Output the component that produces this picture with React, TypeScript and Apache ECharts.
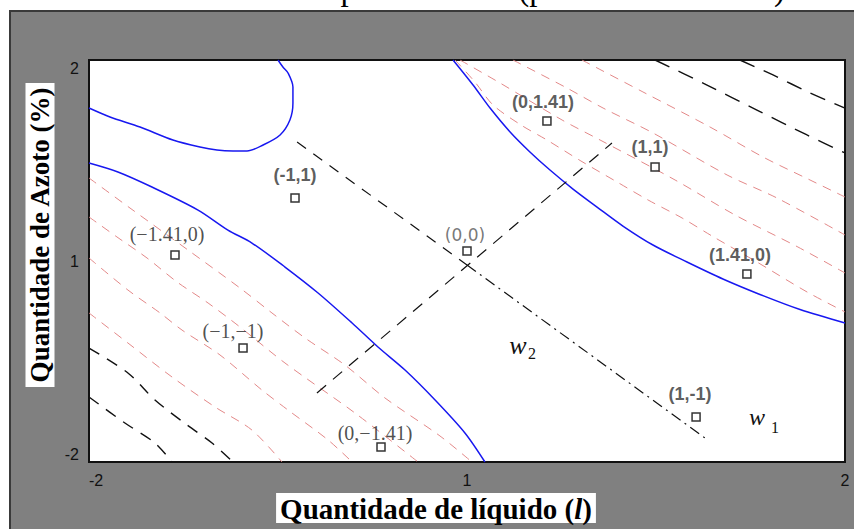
import { useEffect, useRef } from 'react';
import * as echarts from 'echarts';

// Axis ticks and the text shown at them
const tickValues = [-2, 0, 2];
const xTickLabels = ['-2', '1', '2'];
const yTickLabels = ['-2', '1', '2'];

const titleText = 'Planeamento composto central (por nível de Azoto)';
const xTitle = ['Quantidade de líquido (', 'l', ')'];
const yTitle = 'Quantidade de Azoto (%)';

// Iso-response contours [x, y]
const blueLoop = [
  [-2.0, 1.522], [-1.889, 1.433], [-1.73, 1.333], [-1.556, 1.204], [-1.413, 1.134], [-1.323, 1.104],
  [-1.238, 1.095], [-1.164, 1.095], [-1.079, 1.154], [-0.989, 1.254], [-0.937, 1.403], [-0.921, 1.572],
  [-0.921, 1.731], [-0.947, 1.871], [-0.974, 1.93], [-1.0, 2.0],
];
const blueLow = [
  [-2.0, 0.975], [-1.847, 0.886], [-1.667, 0.736], [-1.423, 0.507], [-1.265, 0.308], [-1.138, 0.179],
  [-0.963, -0.06], [-0.788, -0.318], [-0.608, -0.617], [-0.471, -0.856], [-0.328, -1.085],
  [-0.169, -1.383], [-0.011, -1.711], [0.095, -2.0],
];
const blueHigh = [
  [-0.074, 2.0], [0.032, 1.751], [0.122, 1.522], [0.228, 1.284], [0.333, 1.085], [0.439, 0.905],
  [0.561, 0.716], [0.688, 0.537], [0.825, 0.348], [0.984, 0.159], [1.164, -0.01], [1.354, -0.179],
  [1.55, -0.333], [1.762, -0.483], [2.0, -0.617],
];
const pinkHigh = [
  [[-0.063, 2.0], [0.042, 1.781], [0.138, 1.552], [0.286, 1.353], [0.423, 1.204], [0.603, 0.995], [0.794, 0.786],
   [0.958, 0.607], [1.138, 0.428], [1.296, 0.249], [1.534, -0.01], [1.799, -0.308], [2.0, -0.507]],
  [[-0.037, 2.0], [0.175, 1.771], [0.503, 1.403], [0.704, 1.204], [1.101, 0.806], [1.418, 0.458], [1.751, 0.139], [2.0, -0.119]],
  [[0.243, 2.0], [0.529, 1.721], [0.72, 1.522], [0.984, 1.274], [1.376, 0.856], [1.64, 0.627], [2.0, 0.259]],
  [[0.608, 2.0], [0.931, 1.682], [1.286, 1.333], [1.566, 1.035], [1.815, 0.806], [2.0, 0.637]],
];
const blackHigh = [
  [[0.995, 2.0], [1.27, 1.751], [1.534, 1.502], [1.799, 1.254], [2.0, 1.075]],
  [[1.444, 2.0], [1.619, 1.851], [1.815, 1.672], [2.0, 1.522]],
];
const pinkLow = [
  [[-2.0, 0.826], [-1.783, 0.527], [-1.476, 0.109], [-1.201, -0.269], [-1.032, -0.517], [-0.857, -0.766],
   [-0.646, -1.035], [-0.434, -1.363], [-0.143, -1.741], [0.026, -2.0]],
  [[-2.0, 0.438], [-1.852, 0.239], [-1.693, 0.03], [-1.534, -0.209], [-1.37, -0.418], [-1.201, -0.657],
   [-0.963, -1.015], [-0.593, -1.512], [-0.259, -2.0]],
  [[-2.0, 0.03], [-1.794, -0.289], [-1.624, -0.517], [-1.508, -0.687], [-1.307, -0.935], [-1.085, -1.284],
   [-0.947, -1.483], [-0.735, -1.781], [-0.608, -2.0]],
  [[-2.0, -0.517], [-1.794, -0.816], [-1.561, -1.154], [-1.333, -1.453], [-1.138, -1.682], [-0.979, -2.0]],
];
const blackLow = [
  [[-2.0, -0.866], [-1.794, -1.114], [-1.651, -1.383], [-1.481, -1.632], [-1.349, -1.811], [-1.238, -2.0]],
  [[-2.0, -1.353], [-1.81, -1.612], [-1.651, -1.811], [-1.561, -2.0]],
];

// Rotated design axes w1 and w2
const w1Upper = [[-0.899, 1.184], [0.0, -0.04]];
const w1Lower = [[0.0, -0.04], [1.259, -1.761]];
const w2Axis = [[-0.794, -1.313], [0.767, 1.174]];

// Design points
const pointLabels = ['(0,0)', '(1,1)', '(-1,1)', '(1,-1)', '(−1,−1)', '(0,1.41)', '(1.41,0)', '(−1.41,0)', '(0,−1.41)'];
const pointX = [0.0, 0.995, -0.91, 1.212, -1.185, 0.423, 1.481, -1.545, -0.455];
const pointY = [0.1, 0.935, 0.627, -1.552, -0.866, 1.393, -0.129, 0.06, -1.851];

const labelOffsets: Record<string, number[]> = {
  '(0,0)': [-2, -16], '(1,1)': [-5, -20], '(-1,1)': [0, -23], '(1,-1)': [-6, -23], '(−1,−1)': [-10, -17],
  '(0,1.41)': [-4, -19], '(1.41,0)': [-7, -19], '(−1.41,0)': [-8, -21], '(0,−1.41)': [-6, -14],
};

function labelFont(text: string) {
  if (text.includes('−')) return { fontFamily: '"Liberation Serif", serif', fontSize: 20, fontWeight: 'normal', color: '#222' };
  if (text === '(0,0)') return { fontFamily: '"DejaVu Sans", sans-serif', fontSize: 17, fontWeight: 'normal', color: '#555' };
  return { fontFamily: '"Liberation Sans", sans-serif', fontSize: 18, fontWeight: 'bold', color: '#333' };
}

function contour(data: number[][], color: string, width: number, type: any) {
  return {
    type: 'line', data, symbol: 'none', showSymbol: false, smooth: 0.3, silent: true, clip: true,
    lineStyle: { color, width, type }, z: 2,
  };
}

export default function App() {
  const ref = useRef<HTMLDivElement>(null);
  useEffect(() => {
    if (!ref.current) return;
    const chart = echarts.init(ref.current, null, { renderer: 'svg' });
    const pink = '#e38888';
    const blue = '#1818f0';
    const tickText = (labels: string[]) => (v: number) => {
      const i = tickValues.indexOf(v);
      return i >= 0 ? labels[i] : '';
    };
    const option: any = {
      animation: false,
      backgroundColor: '#ffffff',
      grid: { left: 89, top: 60, width: 756, height: 402, show: true, backgroundColor: '#ffffff', borderColor: '#111', borderWidth: 2 },
      xAxis: {
        type: 'value', min: -2, max: 2, interval: 2,
        axisLine: { show: false }, axisTick: { show: false }, splitLine: { show: false },
        axisLabel: { formatter: tickText(xTickLabels), margin: 10, fontSize: 16, color: '#111', fontFamily: '"Liberation Sans", Arial', alignMinLabel: 'left' },
      },
      yAxis: {
        type: 'value', min: -2, max: 2, interval: 2,
        axisLine: { show: false }, axisTick: { show: false }, splitLine: { show: false },
        axisLabel: { formatter: tickText(yTickLabels), margin: 10, fontSize: 16, color: '#111', fontFamily: '"Liberation Sans", Arial', verticalAlignMinLabel: 'bottom', verticalAlignMaxLabel: 'top' },
      },
      graphic: [
        { type: 'rect', z: -10, shape: { x: 10, y: 11, width: 850, height: 525 }, style: { fill: '#808080', stroke: '#3a3a3a', lineWidth: 2 } },
        { type: 'text', z: -20, x: 445, y: 5, style: { text: titleText, font: '33px "Liberation Serif", serif', fill: '#000', align: 'center', verticalAlign: 'bottom' } },
        {
          type: 'text', z: 100, x: 40, y: 235, rotation: Math.PI / 2,
          style: { text: yTitle, font: 'bold 27px "Liberation Serif", serif', fill: '#000', align: 'center', verticalAlign: 'middle', backgroundColor: '#fff', padding: [2, 4, 0, 4] },
        },
        {
          type: 'text', z: 100, x: 436, y: 508,
          style: {
            text: `{n|${xTitle[0]}}{i|${xTitle[1]}}{n|${xTitle[2]}}`,
            rich: {
              n: { font: 'bold 29px "Liberation Serif", serif', fill: '#000' },
              i: { font: 'italic bold 29px "Liberation Serif", serif', fill: '#000' },
            },
            align: 'center', verticalAlign: 'middle', backgroundColor: '#fff', padding: [1, 4, 0, 4],
          },
        },
        { type: 'text', z: 100, x: 518, y: 345, style: { text: 'w', font: 'italic 26px "Liberation Serif", serif', fill: '#111', align: 'center', verticalAlign: 'middle' } },
        { type: 'text', z: 100, x: 532, y: 353, style: { text: '2', font: '16px "Liberation Serif", serif', fill: '#111', align: 'center', verticalAlign: 'middle' } },
        { type: 'text', z: 100, x: 757, y: 417, style: { text: 'w', font: 'italic 24px "Liberation Serif", serif', fill: '#111', align: 'center', verticalAlign: 'middle' } },
        { type: 'text', z: 100, x: 775, y: 427, style: { text: '1', font: '16px "Liberation Serif", serif', fill: '#111', align: 'center', verticalAlign: 'middle' } },
      ],
      series: [
        contour(blueLoop, blue, 1.5, 'solid'),
        contour(blueLow, blue, 1.5, 'solid'),
        contour(blueHigh, blue, 1.5, 'solid'),
        ...pinkHigh.map((d) => contour(d, pink, 1, [9, 7])),
        ...pinkLow.map((d) => contour(d, pink, 1, [9, 7])),
        ...blackHigh.map((d) => contour(d, '#111', 1.4, [16, 10])),
        ...blackLow.map((d) => contour(d, '#111', 1.4, [12, 9])),
        { ...contour(w1Upper, '#111', 1.2, [11, 9]), smooth: false },
        { ...contour(w1Lower, '#111', 1.2, [11, 5, 2, 5]), smooth: false },
        { ...contour(w2Axis, '#111', 1.2, [12, 9]), smooth: false },
        {
          type: 'scatter', z: 5, symbol: 'rect', symbolSize: 8, silent: true,
          itemStyle: { color: '#fff', borderColor: '#000', borderWidth: 1.5 },
          data: pointLabels.map((t, i) => ({
            value: [pointX[i], pointY[i]],
            label: { show: true, position: 'inside', formatter: t, offset: labelOffsets[t], ...labelFont(t) },
          })),
        },
      ],
    };
    chart.setOption(option);
    return () => chart.dispose();
  }, []);
  return <div ref={ref} style={{ position: 'absolute', left: 0, top: 0, width: 854, height: 529 }} />;
}
